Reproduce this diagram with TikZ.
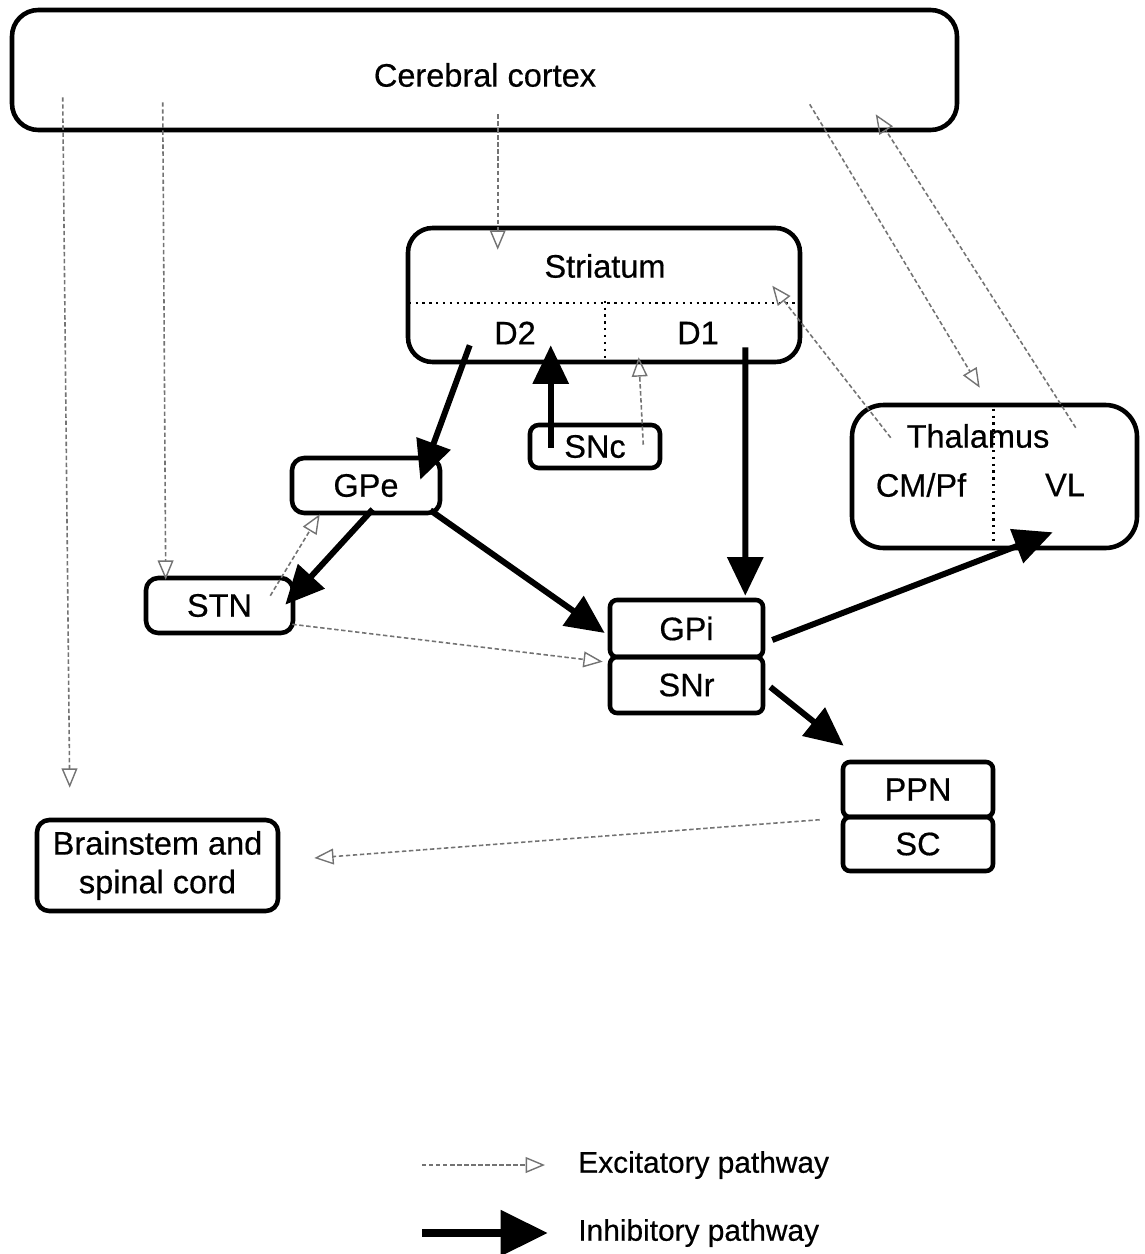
\documentclass[tikz,border=0pt]{standalone}
\usepackage{fontspec}
\setmainfont{Liberation Sans}
\newfontfamily\lblfont[FakeBold=0.5]{Liberation Sans}
\usetikzlibrary{arrows.meta,calc}
\begin{document}
\begin{tikzpicture}[x=0.02cm,y=-0.02cm,
  box/.style={draw, line width=2.6pt, rounded corners=#1, inner sep=0pt},
  box/.default=5pt,
  sz/.style 2 args={minimum width=#1*0.02cm, minimum height=#2*0.02cm},
  lbl/.style={font=\lblfont\fontsize{18.5}{22}\selectfont, inner sep=0pt},
  keylbl/.style={font=\lblfont\fontsize{17}{20}\selectfont, inner sep=0pt, anchor=west},
  exc/.style={draw=black!55, line width=0.9pt, dash pattern=on 2.5pt off 1.5pt,
    -{Triangle[open,length=11pt,width=9pt,line width=0.8pt]}},
  inh/.style={line width=3.4pt, -{Triangle[length=22pt,width=20pt]}},
  divider/.style={line width=1.3pt, dash pattern=on 1.3pt off 2.6pt}]
\useasboundingbox (0,0) rectangle (1145,1254);

% ---- boxes ----
\node[box=15pt, sz={945}{120}] (cortex) at (484.5,70) {};
\node[lbl] (cortexlbl) at (485,75) {Cerebral cortex};

\node[box=14pt, sz={392}{134}] (striatum) at (604,295) {};
\node[lbl] (striatumlbl) at (605,266) {Striatum};
\node[lbl] (d2) at (515,333) {D2};
\node[lbl] (d1) at (698,333) {D1};

\node[box, sz={130}{43}, lbl] (snc) at (595,446.5) {SNc};
\node[box=7pt, sz={148}{55}, lbl] (gpe) at (366,485.5) {GPe};
\node[box=7pt, sz={147}{55}, lbl] (stn) at (219.5,605.5) {STN};

\node[box=4pt, sz={153}{57}, lbl] (gpi) at (686.5,628.5) {GPi};
\node[box=4pt, sz={153}{56}, lbl] (snr) at (686.5,685) {SNr};

\node[box=18pt, sz={285}{143}] (thal) at (994.5,476.5) {};
\node[lbl] (thallbl) at (978,436) {Thalamus};
\node[lbl] (cmpf) at (921,485) {CM/Pf};
\node[lbl] (vl) at (1065,485) {VL};

\node[box=4pt, sz={150}{55}, lbl] (ppn) at (918,789.5) {PPN};
\node[box=4pt, sz={150}{54}, lbl] (sc) at (918,844) {SC};

\node[box=7pt, sz={241}{91}, lbl, align=center] (brain) at (157.5,865.5)
  {Brainstem and\\spinal cord};

% ---- internal dotted dividers ----
\draw[divider] ($(striatum.west)+(3,8)$) -- ($(striatum.east)+(-3,8)$);
\draw[divider] ($(striatum.north)+(1,75)$) -- ($(striatum.south)+(1,-5)$);
\draw[divider] ($(thal.north)+(-1,6)$) -- ($(thal.south)+(-1,-4)$);

% ---- excitatory pathways ----
\draw[exc] ($(cortex.south west)+(53,-35)$) -- ($(brain.north west)+(35,-30)$);
\draw[exc] ($(cortex.south west)+(153,-30)$) -- ($(stn.north west)+(22,4)$);
\draw[exc] ($(cortex.south west)+(488,-18)$) -- ($(striatum.north west)+(92,24)$);
\draw[exc] ($(cortex.south west)+(800,-28)$) -- ($(thal.north west)+(130,-15)$);
\draw[exc] ($(thal.north west)+(226,25)$) -- ($(cortex.south west)+(866,-18)$);
\draw[exc] ($(thal.north west)+(41,35)$) -- ($(striatum.north east)+(-30,60)$);
\draw[exc] ($(snc.north east)+(-19,22)$) -- ($(striatum.south west)+(233,-7)$);
\draw[exc] ($(stn.north east)+(-25,20)$) -- ($(gpe.south west)+(30,-1)$);
\draw[exc] ($(stn.south east)+(-3,-11)$) -- ($(snr.north west)+(-5,7)$);
\draw[exc] ($(sc.north west)+(-21,5)$) -- ($(brain.east)+(34,-7.5)$);

% ---- inhibitory pathways ----
\draw[inh] ($(striatum.south west)+(64,-19)$) -- ($(gpe.north east)+(-22,24)$);
\draw[inh] ($(snc.north west)+(23,25)$) -- ($(striatum.south west)+(145,-19)$);
\draw[inh] ($(striatum.south east)+(-57,-17)$) -- ($(gpi.north east)+(-20,-2)$);
\draw[inh] ($(gpe.south west)+(83,-6)$) -- ($(stn.north east)+(-10,29)$);
\draw[inh] ($(gpe.south east)+(-12,-5)$) -- ($(gpi.west)+(-3,4.5)$);
\draw[inh] ($(gpi.east)+(7,11.5)$) -- ($(thal.south west)+(203,-18)$);
\draw[inh] ($(snr.east)+(5,2)$) -- ($(ppn.north west)+(3,-14)$);

% ---- legend ----
\coordinate (lexa) at (422,1165);
\coordinate (lexb) at (545,1165);
\draw[exc] (lexa) -- (lexb);
\node[keylbl] (lextxt) at (578,1165) {Excitatory pathway};
\coordinate (lina) at (422,1233);
\coordinate (linb) at (548,1233);
\draw[line width=5pt, -{Triangle[length=27pt,width=25pt]}] (lina) -- (linb);
\node[keylbl] (lintxt) at (578,1233) {Inhibitory pathway};
\end{tikzpicture}
\end{document}
